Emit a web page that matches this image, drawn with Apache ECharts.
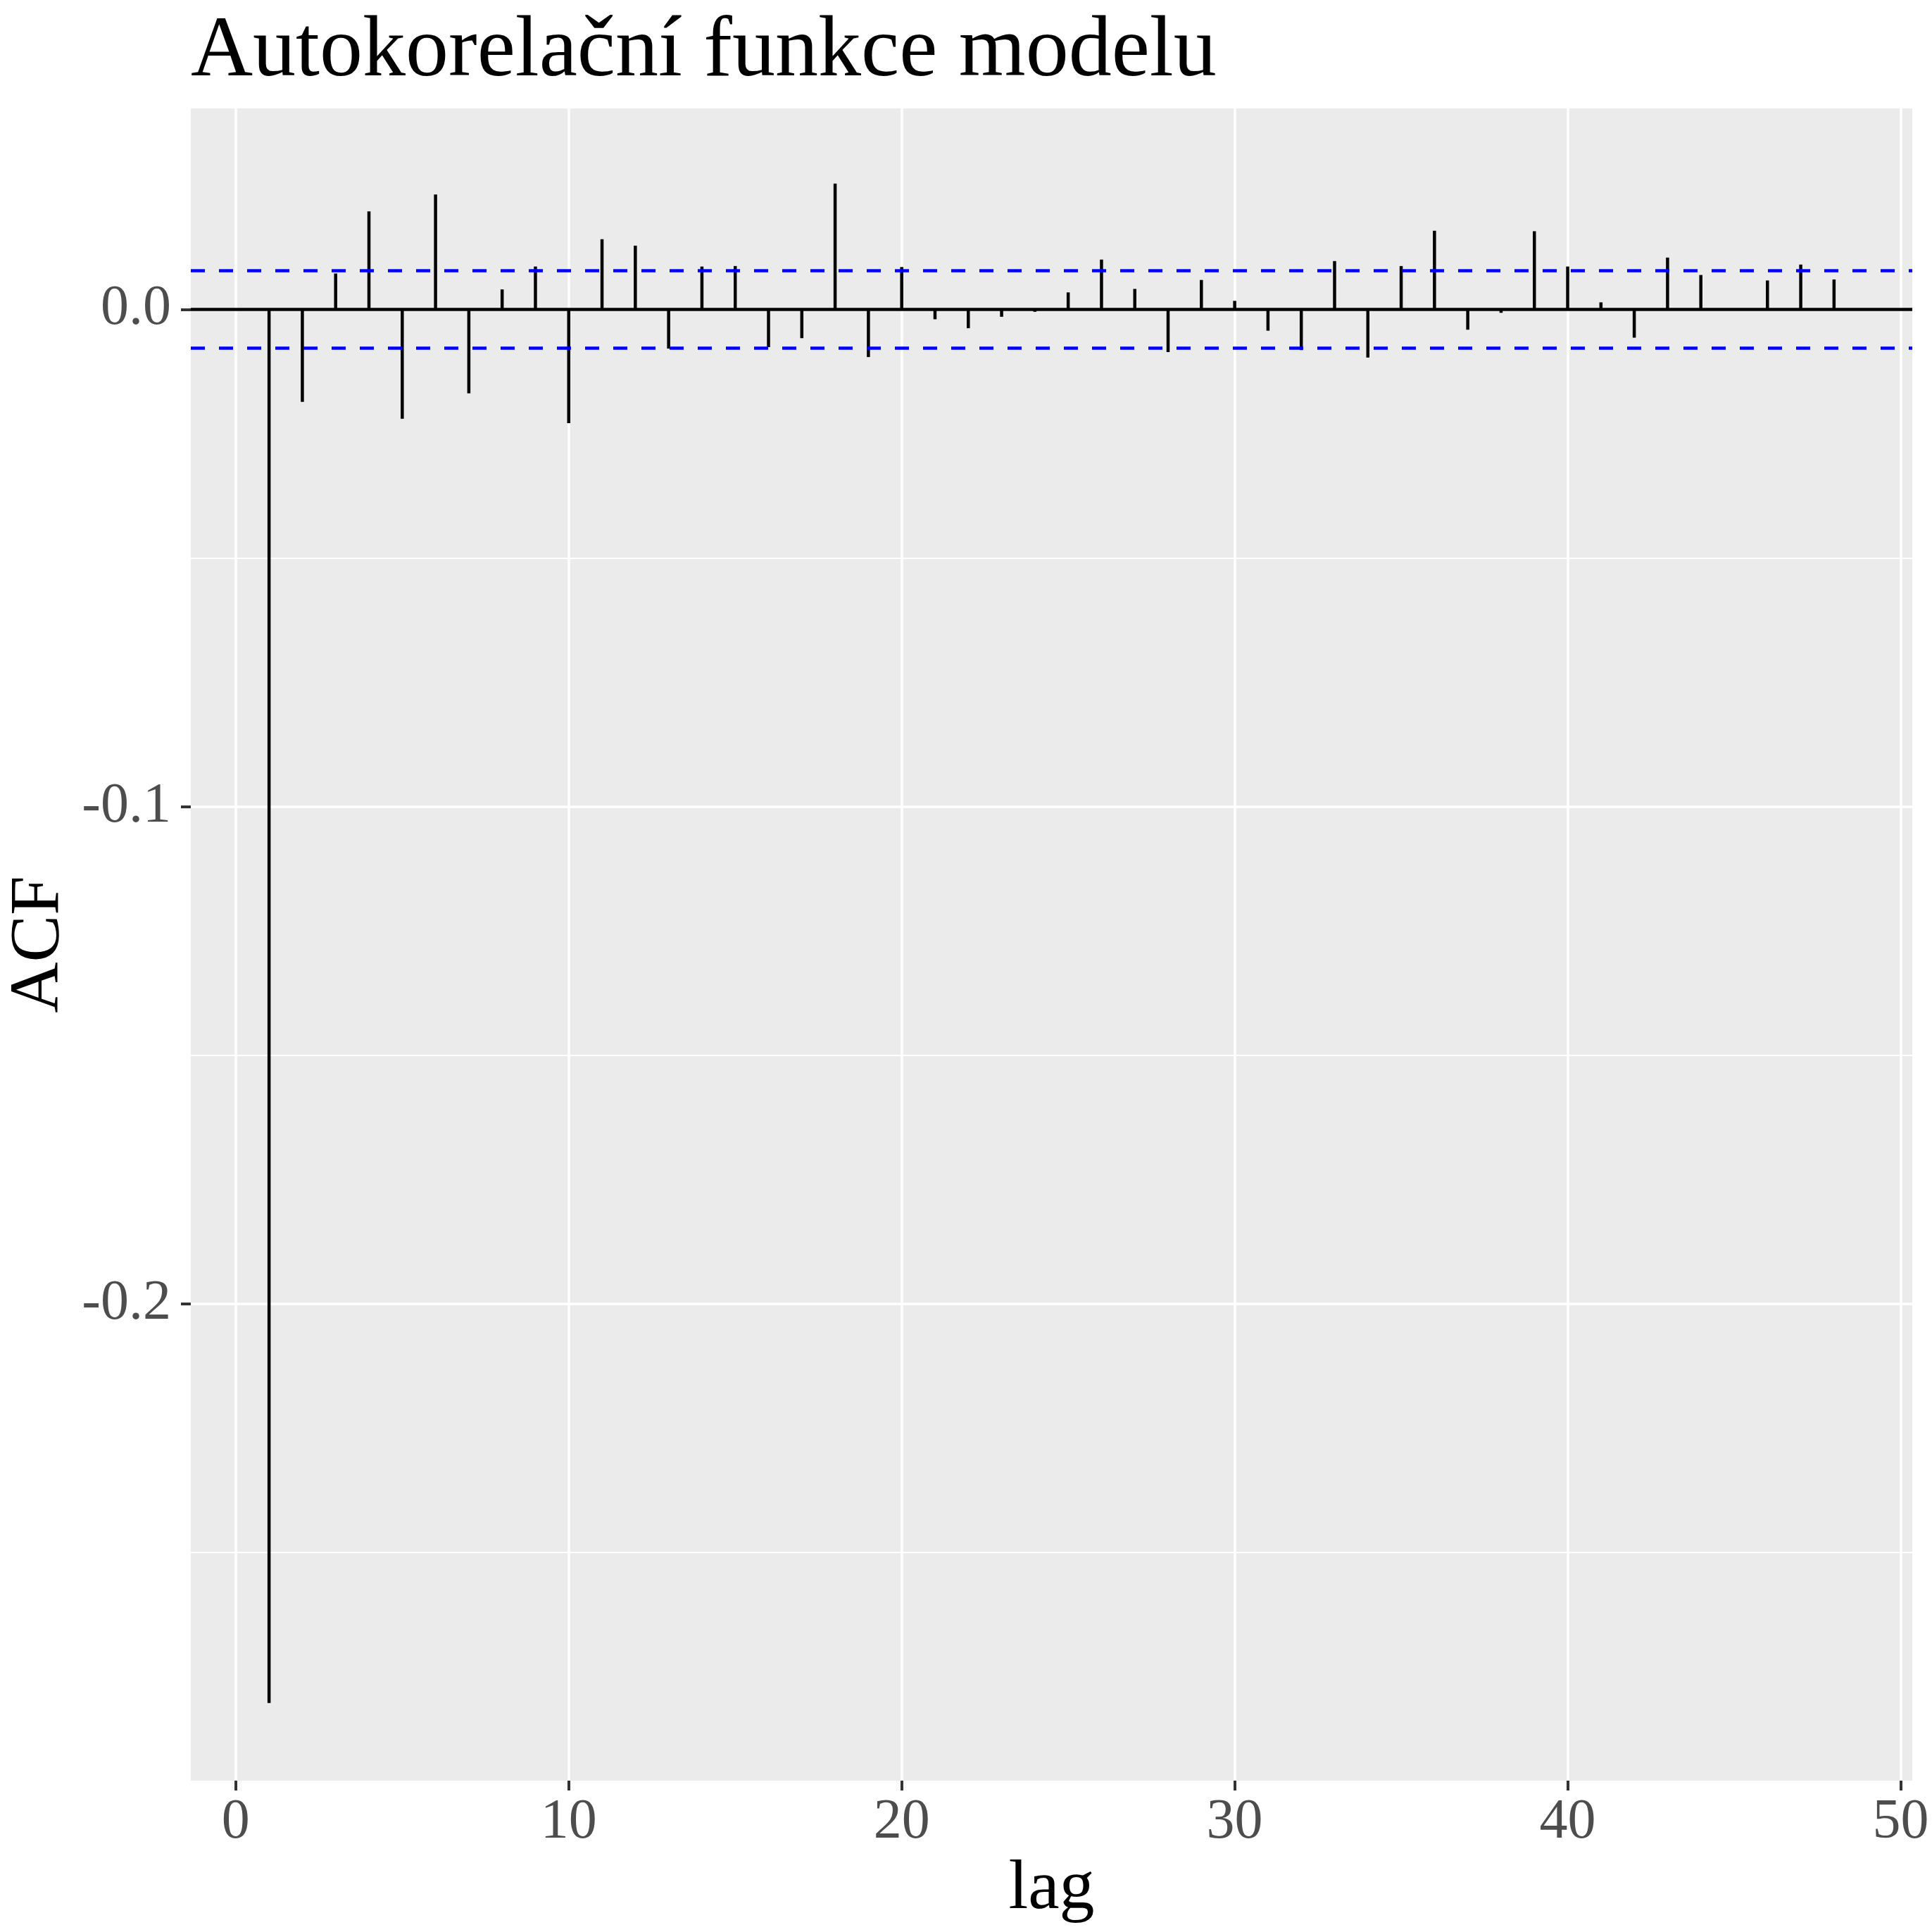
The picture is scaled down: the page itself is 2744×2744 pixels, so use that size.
<!DOCTYPE html>
<html>
<head>
<meta charset="utf-8">
<script src="https://cdn.jsdelivr.net/npm/echarts@6/dist/echarts.min.js"></script>
<style>
  html, body { margin: 0; padding: 0; background: #fff; }
  #chart { width: 2744px; height: 2744px; }
</style>
</head>
<body>
<div id="chart"></div>
<script>
// ACF hodnoty (lag 1..48)
const lags = [
  1, 2, 3, 4, 5, 6, 7, 8, 9, 10,
  11, 12, 13, 14, 15, 16, 17, 18, 19, 20,
  21, 22, 23, 24, 25, 26, 27, 28, 29, 30,
  31, 32, 33, 34, 35, 36, 37, 38, 39, 40,
  41, 42, 43, 44, 45, 46, 47, 48
];
const acfValues = [
  -0.2803, -0.0186, 0.0072, 0.0197, -0.0220, 0.0231, -0.0169, 0.0040, 0.0086, -0.0229,
  0.0141, 0.0128, -0.0079, 0.0086, 0.0087, -0.0076, -0.0058, 0.0253, -0.0096, 0.0085,
  -0.0020, -0.0038, -0.0015, -0.0005, 0.0034, 0.0100, 0.0041, -0.0086, 0.0059, 0.0017,
  -0.0043, -0.0082, 0.0097, -0.0097, 0.0087, 0.0158, -0.0041, -0.0007, 0.0157, 0.0086,
  0.0014, -0.0057, 0.0104, 0.0069, 0.0001, 0.0058, 0.0090, 0.0060
];
const ciBound = 0.0078;           // hranice intervalu spolehlivosti
const xTicks = [0, 10, 20, 30, 40, 50];
const yTicks = [-0.2, -0.1, 0.0];
const yMinorTicks = [-0.25, -0.15, -0.05];

const FONT = '"Liberation Serif", "DejaVu Serif", serif';

const chart = echarts.init(document.getElementById('chart'));

chart.setOption({
  animation: false,
  backgroundColor: '#ffffff',
  title: {
    text: 'Autokorelační funkce modelu',
    left: 266,
    top: 9,
    textStyle: { fontFamily: FONT, fontSize: 122, fontWeight: 'normal', color: '#000' }
  },
  grid: {
    left: 271, right: 28, top: 154, bottom: 215,
    containLabel: false,
    outerBoundsMode: 'none',
    show: true, backgroundColor: '#ebebeb', borderWidth: 0
  },
  xAxis: {
    type: 'value',
    min: -1.35,
    max: 50.35,
    name: 'lag',
    nameLocation: 'middle',
    nameGap: 92,
    nameTextStyle: { fontFamily: FONT, fontSize: 100, color: '#000' },
    axisLine: { show: false, onZero: false },
    axisTick: { show: true, length: 14, customValues: xTicks, lineStyle: { color: '#333', width: 4 } },
    axisLabel: {
      customValues: xTicks,
      margin: 20,
      fontFamily: FONT, fontSize: 80, color: '#4d4d4d'
    },
    splitLine: { show: true, lineStyle: { color: '#ffffff', width: 3.5 } }
  },
  yAxis: {
    type: 'value',
    min: -0.2959,
    max: 0.0404,
    name: 'ACF',
    nameLocation: 'middle',
    nameGap: 155,
    nameRotate: 90,
    nameTextStyle: { fontFamily: FONT, fontSize: 100, color: '#000' },
    axisLine: { show: false, onZero: false },
    axisTick: { show: true, length: 14, customValues: yTicks, lineStyle: { color: '#333', width: 4 } },
    axisLabel: {
      customValues: yTicks,
      margin: 28,
      fontFamily: FONT, fontSize: 80, color: '#4d4d4d',
      formatter: v => v.toFixed(1)
    },
    splitLine: { show: true, lineStyle: { color: '#ffffff', width: 3.5 } }
  },
  series: [
    {
      // vedlejsi mrizka
      type: 'line',
      data: [],
      z: 1,
      silent: true,
      markLine: {
        z: 1,
        symbol: 'none',
        silent: true,
        precision: 6,
        label: { show: false },
        lineStyle: { color: '#ffffff', width: 1.8, type: 'solid' },
        data: yMinorTicks.map(v => ({ yAxis: v }))
      }
    },
    {
      type: 'bar',
      data: lags.map((l, i) => [l, acfValues[i]]),
      barWidth: 4.5,
      z: 2,
      itemStyle: { color: '#000' }
    },
    {
      type: 'line',
      data: [],
      z: 3,
      silent: true,
      markLine: {
        z: 5,
        symbol: 'none',
        silent: true,
        precision: 6,
        label: { show: false },
        data: [
          { yAxis: 0, lineStyle: { color: '#000', width: 4.5, type: 'solid' } },
          { yAxis: ciBound, lineStyle: { color: '#0000ff', width: 4.5, type: [20, 20] } },
          { yAxis: -ciBound, lineStyle: { color: '#0000ff', width: 4.5, type: [20, 20] } }
        ]
      }
    }
  ]
});
</script>
</body>
</html>
